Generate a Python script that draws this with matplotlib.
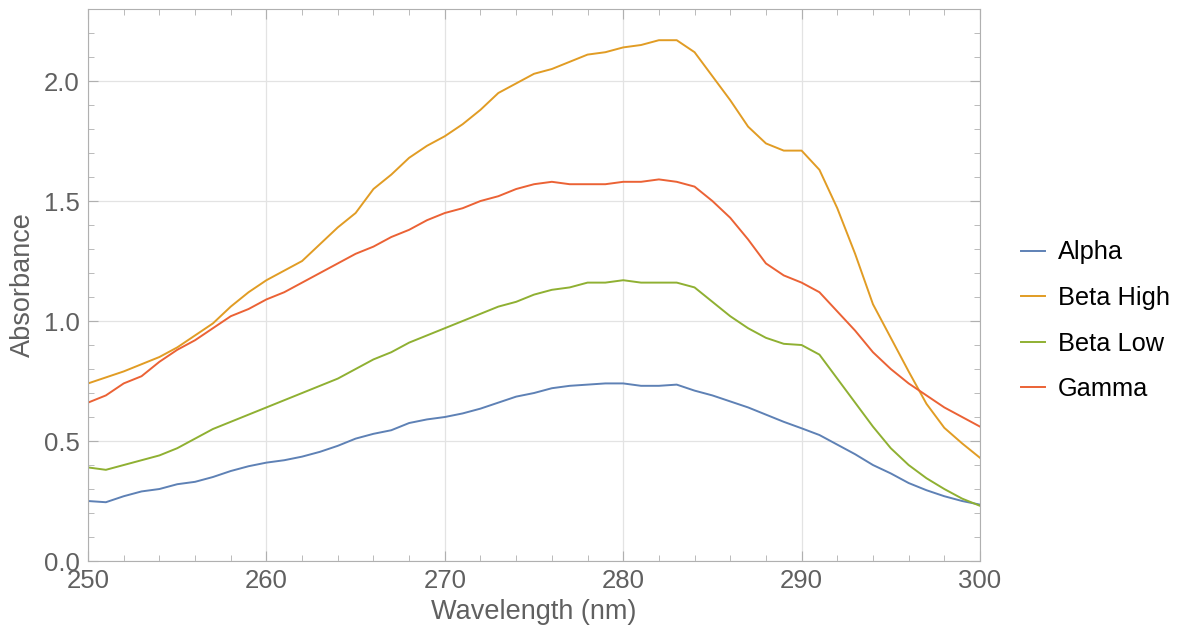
import numpy as np
import matplotlib
matplotlib.use("Agg")
import matplotlib.pyplot as plt
from matplotlib.ticker import MultipleLocator

# ----- data (1 nm steps) -----
wavelength = list(range(250, 301))

alpha = [0.25, 0.245, 0.27, 0.29, 0.30, 0.32, 0.33, 0.35, 0.375, 0.395,
         0.41, 0.42, 0.435, 0.455, 0.48, 0.51, 0.53, 0.545, 0.575, 0.59,
         0.60, 0.615, 0.635, 0.66, 0.685, 0.70, 0.72, 0.73, 0.735, 0.74,
         0.74, 0.73, 0.73, 0.735, 0.71, 0.69, 0.665, 0.64, 0.61, 0.58,
         0.553, 0.525, 0.485, 0.445, 0.40, 0.365, 0.325, 0.295, 0.27, 0.25,
         0.235]

beta_high = [0.74, 0.765, 0.79, 0.82, 0.85, 0.89, 0.94, 0.99, 1.06, 1.12,
             1.17, 1.21, 1.25, 1.32, 1.39, 1.45, 1.55, 1.61, 1.68, 1.73,
             1.77, 1.82, 1.88, 1.95, 1.99, 2.03, 2.05, 2.08, 2.11, 2.12,
             2.14, 2.15, 2.17, 2.17, 2.12, 2.02, 1.92, 1.81, 1.74, 1.71,
             1.71, 1.63, 1.47, 1.28, 1.07, 0.93, 0.79, 0.655, 0.555, 0.49,
             0.43]

beta_low = [0.39, 0.38, 0.40, 0.42, 0.44, 0.47, 0.51, 0.55, 0.58, 0.61,
            0.64, 0.67, 0.70, 0.73, 0.76, 0.80, 0.84, 0.87, 0.91, 0.94,
            0.97, 1.00, 1.03, 1.06, 1.08, 1.11, 1.13, 1.14, 1.16, 1.16,
            1.17, 1.16, 1.16, 1.16, 1.14, 1.08, 1.02, 0.97, 0.93, 0.905,
            0.90, 0.86, 0.76, 0.66, 0.56, 0.47, 0.40, 0.345, 0.30, 0.26,
            0.23]

gamma = [0.66, 0.69, 0.74, 0.77, 0.83, 0.88, 0.92, 0.97, 1.02, 1.05,
         1.09, 1.12, 1.16, 1.20, 1.24, 1.28, 1.31, 1.35, 1.38, 1.42,
         1.45, 1.47, 1.50, 1.52, 1.55, 1.57, 1.58, 1.57, 1.57, 1.57,
         1.58, 1.58, 1.59, 1.58, 1.56, 1.50, 1.43, 1.34, 1.24, 1.19,
         1.16, 1.12, 1.04, 0.96, 0.87, 0.80, 0.74, 0.69, 0.64, 0.60,
         0.56]

names = ["Alpha", "Beta High", "Beta Low", "Gamma"]
colors = ["#5E81B5", "#E19C24", "#8FB032", "#EB6235"]

plt.rcParams["font.family"] = ["Liberation Sans", "DejaVu Sans"]

fig = plt.figure(figsize=(11.8, 6.34), dpi=100)
ax = fig.add_axes([0.0746, 0.1151, 0.7559, 0.8707])

for ys, name, c in zip([alpha, beta_high, beta_low, gamma], names, colors):
    ax.plot(wavelength, ys, color=c, lw=1.4, label=name)

ax.set_xlim(250, 300)
ax.set_ylim(0, 2.3)
ax.xaxis.set_major_locator(MultipleLocator(10))
ax.xaxis.set_minor_locator(MultipleLocator(2))
ax.yaxis.set_major_locator(MultipleLocator(0.5))
ax.yaxis.set_minor_locator(MultipleLocator(0.1))
ax.yaxis.set_major_formatter(matplotlib.ticker.FormatStrFormatter("%.1f"))

ax.grid(True, which="major", color="#e3e3e3", lw=0.9)
ax.set_axisbelow(True)
for s in ax.spines.values():
    s.set_color("#b0b0b0")
ax.tick_params(which="both", direction="in", top=True, right=True,
               color="#b0b0b0", labelcolor="#606060", labelsize=18.5)
ax.tick_params(which="major", length=7, pad=6)
ax.tick_params(which="minor", length=4)

ax.set_xlabel("Wavelength (nm)", fontsize=19.5, color="#606060", labelpad=4)
ax.set_ylabel("Absorbance", fontsize=19.5, color="#606060", labelpad=6)

fig.legend(loc="center left", bbox_to_anchor=(0.846, 0.494), frameon=False,
           fontsize=18.3, handlelength=0.95, handletextpad=0.5,
           labelspacing=0.85)

plt.savefig("out.png", dpi=100)
